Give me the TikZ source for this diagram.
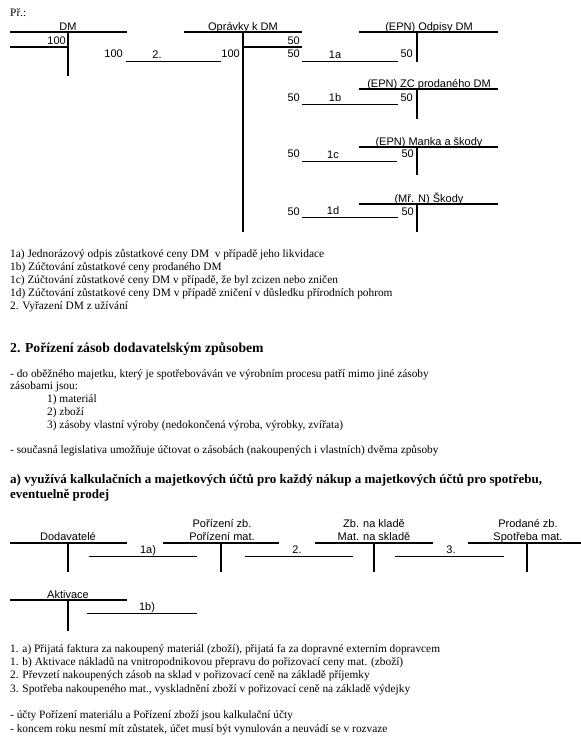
\documentclass[tikz,border=0pt]{standalone}
\usepackage{fontspec}
\setmainfont{Liberation Serif}
\newfontfamily\arialf{Liberation Sans}
\begin{document}
\begin{tikzpicture}[x=1pt,y=-1pt,
  lbl/.style={font=\arialf\fontsize{11}{12}\selectfont, inner sep=0pt, anchor=base},
  num/.style={font=\arialf\fontsize{11}{12}\selectfont, inner sep=0pt, anchor=base east},
  txt/.style={font=\fontsize{11.35}{12}\selectfont, inner sep=0pt, anchor=base west},
  bhead/.style={font=\bfseries\fontsize{13.7}{16}\selectfont, inner sep=0pt, anchor=base west},
  bheadb/.style={font=\bfseries\fontsize{13}{16}\selectfont, inner sep=0pt, anchor=base west},
  hdr/.style={line width=2pt},
  thinhdr/.style={line width=1.2pt},
  vert/.style={line width=2pt},
  conn/.style={line width=0.9pt}
]
\useasboundingbox (0,0) rectangle (581,745);

% ---------------- top example ----------------
\node[txt] (pr) at (10,16) {Př.:};

% DM
\node[lbl] (dm) at (68,30) {DM};
\draw[hdr] (10,32) -- (127,32);
\draw[vert] (68,32) -- (68,76);
\node[num] (dm100) at (66,44) {100};
\draw[hdr] (10,46.5) -- (69,46.5);
\node[num] (dm100b) at (123,57) {100};

% Opravky k DM
\node[lbl] (opr) at (243,30) {Oprávky k DM};
\draw[hdr] (184,32) -- (302,32);
\draw[line width=2.4pt] (243,32) -- (243,232);
\node[num] (o50a) at (300,44) {50};
\draw[hdr] (243,46.5) -- (302,46.5);
\node[num] (o100) at (240,57) {100};
\node[num] (o50b) at (300,57) {50};
\node[num] (o50c) at (300,101) {50};
\node[num] (o50d) at (300,157) {50};
\node[num] (o50e) at (300,215) {50};

% connector 2.
\coordinate (c2s) at (126,61); \coordinate (c2e) at (221,61);
\draw[conn] (c2s) -- (c2e);
\node[lbl] (l2) at (157,58) {2.};

% (EPN) Odpisy DM
\node[lbl] (odp) at (429,30) {(EPN) Odpisy DM};
\draw[hdr] (359,32) -- (498,32);
\draw[vert] (417,32) -- (417,62);
\node[num] (odp50) at (413,57) {50};
\coordinate (c1as) at (302,61); \coordinate (c1ae) at (398,61);
\draw[conn] (c1as) -- (c1ae);
\node[lbl] (l1a) at (335,58) {1a};

% (EPN) ZC prodaneho DM
\node[lbl] (zc) at (429,87) {(EPN) ZC prodaného DM};
\draw[hdr] (359,89) -- (498,89);
\draw[vert] (417,89) -- (417,119);
\node[num] (zc50) at (413,101) {50};
\coordinate (c1bs) at (302,104); \coordinate (c1be) at (398,104);
\draw[conn] (c1bs) -- (c1be);
\node[lbl] (l1b) at (335,101) {1b};

% (EPN) Manka a skody
\node[lbl] (man) at (429,145) {(EPN) Manka a škody};
\draw[hdr] (359,147) -- (498,147);
\draw[vert] (417,147) -- (417,175);
\node[num] (man50) at (414,157) {50};
\coordinate (c1cs) at (302,161); \coordinate (c1ce) at (397,161);
\draw[conn] (c1cs) -- (c1ce);
\node[lbl] (l1c) at (333,158) {1c};

% (Mr. N) Skody
\node[lbl] (sk) at (429,202) {(Mř. N) Škody};
\draw[hdr] (359,204) -- (498,204);
\draw[vert] (417,204) -- (417,232);
\node[num] (sk50) at (414,215) {50};
\coordinate (c1ds) at (302,217); \coordinate (c1de) at (398,217);
\draw[conn] (c1ds) -- (c1de);
\node[lbl] (l1d) at (333,214) {1d};

% legend
\node[txt] (t1) at (10,257) {1a) Jednorázový odpis zůstatkové ceny DM~ v případě jeho likvidace};
\node[txt] (t2) at (10,270) {1b) Zúčtování zůstatkové ceny prodaného DM};
\node[txt] (t3) at (10,283) {1c) Zúčtování zůstatkové ceny DM v případě, že byl zcizen nebo zničen};
\node[txt] (t4) at (10,296) {1d) Zúčtování zůstatkové ceny DM v případě zničení v důsledku přírodních pohrom};
\node[txt] (t5) at (10,309) {2. Vyřazení DM z užívání};

% ---------------- section 2 ----------------
\node[bhead] (h2) at (10,352) {2. Pořízení zásob dodavatelským způsobem};
\node[txt] (s1) at (10,377) {- do oběžného majetku, který je spotřebováván ve výrobním procesu patří mimo jiné zásoby};
\node[txt] (s2) at (10,389.5) {zásobami jsou:};
\node[txt] (s3) at (47,402) {1) materiál};
\node[txt] (s4) at (47,415) {2) zboží};
\node[txt] (s5) at (47,428) {3) zásoby vlastní výroby (nedokončená výroba, výrobky, zvířata)};
\node[txt] (s6) at (10,453) {- současná legislativa umožňuje účtovat o zásobách (nakoupených i vlastních) dvěma způsoby};
\node[bheadb] (ha) at (10,483) {a) využívá kalkulačních a majetkových účtů pro každý nákup a majetkových účtů pro spotřebu,};
\node[bheadb] (hb) at (10,498) {eventuelně prodej};

% T accounts row
\node[lbl] (dod) at (68,540) {Dodavatelé};
\draw[hdr] (10,543) -- (127,543);
\draw[vert] (68,543) -- (68,572);

\node[lbl] (por1) at (222,527) {Pořízení zb.};
\node[lbl] (por2) at (222,540) {Pořízení mat.};
\draw[hdr] (163,543) -- (279,543);
\draw[vert] (221,543) -- (221,572);

\node[lbl] (zb1) at (374,527) {Zb. na kladě};
\node[lbl] (zb2) at (374,540) {Mat. na skladě};
\draw[hdr] (315,543) -- (433,543);
\draw[vert] (374,543) -- (374,572);

\node[lbl] (pro1) at (528,527) {Prodané zb.};
\node[lbl] (pro2) at (528,540) {Spotřeba mat.};
\draw[hdr] (468,543) -- (581,543);
\draw[vert] (527,543) -- (527,572);

\coordinate (b1as) at (89,556); \coordinate (b1ae) at (197,556);
\draw[conn] (b1as) -- (b1ae);
\node[lbl] (lb1a) at (148,553) {1a)};
\coordinate (b2s) at (245,556); \coordinate (b2e) at (353,556);
\draw[conn] (b2s) -- (b2e);
\node[lbl] (lb2) at (297,553) {2.};
\coordinate (b3s) at (395,556); \coordinate (b3e) at (504,556);
\draw[conn] (b3s) -- (b3e);
\node[lbl] (lb3) at (451,553) {3.};

\node[lbl] (akt) at (68,598) {Aktivace};
\draw[thinhdr] (10,600) -- (127,600);
\draw[vert] (68,600) -- (68,631);
\coordinate (b1bs) at (87,613); \coordinate (b1be) at (197,613);
\draw[conn] (b1bs) -- (b1be);
\node[lbl] (lb1b) at (147,610) {1b)};

% bottom legend
\node[txt] (u1) at (10,652) {1. a) Přijatá faktura za nakoupený materiál (zboží), přijatá fa za dopravné externím dopravcem};
\node[txt] (u2) at (10,665.3) {1. b) Aktivace nákladů na vnitropodnikovou přepravu do pořizovací ceny mat. (zboží)};
\node[txt] (u3) at (10,678.6) {2. Převzetí nakoupených zásob na sklad v pořizovací ceně na základě příjemky};
\node[txt] (u4) at (10,692) {3. Spotřeba nakoupeného mat., vyskladnění zboží v pořizovací ceně na základě výdejky};
\node[txt] (u5) at (10,718.6) {- účty Pořízení materiálu a Pořízení zboží jsou kalkulační účty};
\node[txt] (u6) at (10,732) {- koncem roku nesmí mít zůstatek, účet musí být vynulován a neuvádí se v rozvaze};
\end{tikzpicture}
\end{document}
